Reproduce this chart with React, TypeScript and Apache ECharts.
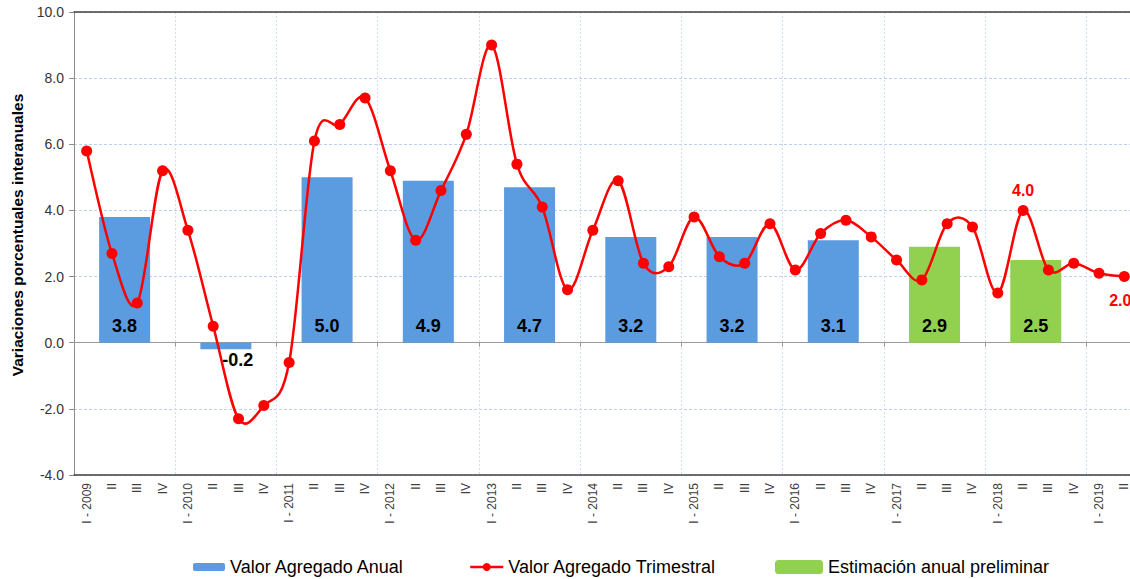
import React, { useEffect, useRef } from "react";
import * as echarts from "echarts";

// ---- Data ----
const years = [2009, 2010, 2011, 2012, 2013, 2014, 2015, 2016, 2017, 2018, 2019];
const quarterNames = ["I", "II", "III", "IV"];
const quarterlyValues = [
  5.8, 2.7, 1.2, 5.2,
  3.4, 0.5, -2.3, -1.9,
  -0.6, 6.1, 6.6, 7.4,
  5.2, 3.1, 4.6, 6.3,
  9.0, 5.4, 4.1, 1.6,
  3.4, 4.9, 2.4, 2.3,
  3.8, 2.6, 2.4, 3.6,
  2.2, 3.3, 3.7, 3.2,
  2.5, 1.9, 3.6, 3.5,
  1.5, 4.0, 2.2, 2.4,
  2.1, 2.0,
];
const annualYears = [2009, 2010, 2011, 2012, 2013, 2014, 2015, 2016, 2017, 2018];
const annualValues = [3.8, -0.2, 5.0, 4.9, 4.7, 3.2, 3.2, 3.1, 2.9, 2.5];
const annualPreliminary = [false, false, false, false, false, false, false, false, true, true];
const labeledQuarters = ["II - 2018", "II - 2019"];
const yTicks = { min: -4, max: 10, interval: 2 };

const quarterCategories: string[] = [];
years.forEach((y) =>
  quarterNames.forEach((q) => {
    if (quarterCategories.length < quarterlyValues.length) {
      quarterCategories.push(q === "I" ? `I - ${y}` : q);
    }
  })
);
const quarterKeys: string[] = [];
years.forEach((y) => quarterNames.forEach((q) => quarterKeys.push(`${q} - ${y}`)));

const BLUE = "#5B9BDF";
const GREEN = "#92D050";
const RED = "#FF0000";
const GRID_COLOR = "#BBD0EE";
const FONT = "'Liberation Sans', Arial, sans-serif";

export default function App() {
  const ref = useRef<HTMLDivElement>(null);

  useEffect(() => {
    document.body.style.overflow = "hidden";
    const chart = echarts.init(ref.current!, null, { renderer: "svg" });

    const barPos = (i: number) => (annualYears[i] - years[0]) * 4 + 2;
    const barLabel = (v: number) =>
      v < 0
        ? { show: true, position: "bottom", distance: 2, offset: [12, 0] }
        : undefined;

    const blueData: any[] = [];
    const greenData: any[] = [];
    annualValues.forEach((v, i) => {
      const item: any = { value: [barPos(i), v] };
      const l = barLabel(v);
      if (l) item.label = l;
      (annualPreliminary[i] ? greenData : blueData).push(item);
    });

    const lineData = quarterlyValues.map((v, i) => {
      const key = quarterKeys[i];
      if (key === labeledQuarters[0]) {
        return { value: v, label: { show: true, position: "top", distance: 6 } };
      }
      if (key === labeledQuarters[1]) {
        return { value: v, label: { show: true, position: "bottom", distance: 10, offset: [-4, 0] } };
      }
      return v;
    });

    // Smooth curve (Catmull-Rom style, as in spreadsheet smoothing), one segment per item
    const n = quarterlyValues.length;
    const renderSegment = (params: any, api: any) => {
      const i = params.dataIndex;
      if (i >= n - 1) return null;
      const pt = (k: number) => {
        const kk = Math.max(0, Math.min(n - 1, k));
        return api.coord([kk, quarterlyValues[kk]]);
      };
      const p0 = pt(i - 1);
      const p1 = pt(i);
      const p2 = pt(i + 1);
      const p3 = pt(i + 2);
      return {
        type: "bezierCurve",
        shape: {
          x1: p1[0],
          y1: p1[1],
          x2: p2[0],
          y2: p2[1],
          cpx1: p1[0] + (p2[0] - p0[0]) / 6,
          cpy1: p1[1] + (p2[1] - p0[1]) / 6,
          cpx2: p2[0] - (p3[0] - p1[0]) / 6,
          cpy2: p2[1] - (p3[1] - p1[1]) / 6,
        },
        style: { stroke: RED, lineWidth: 2.5, fill: null },
        silent: true,
      };
    };

    const barLabelStyle = {
      show: true,
      position: "insideBottom",
      distance: 8,
      fontSize: 18,
      fontWeight: "bold",
      fontFamily: FONT,
      color: "#000",
      formatter: (p: any) => Number(p.value[1]).toFixed(1),
    };

    const legendText = { fontSize: 18, color: "#000", fontFamily: FONT };

    const option: any = {
      animation: false,
      textStyle: { fontFamily: FONT },
      grid: { left: 74, right: 13, top: 12, bottom: 104, containLabel: false },
      xAxis: [
        {
          // zero line with ticks + vertical gridlines
          type: "category",
          data: quarterCategories,
          position: "bottom",
          boundaryGap: true,
          axisLine: { show: true, onZero: true, lineStyle: { color: "#999999", width: 1 } },
          axisTick: { show: true, interval: 3, length: 4, lineStyle: { color: "#999999" } },
          axisLabel: { show: false },
          splitLine: { show: true, interval: 3, lineStyle: { color: "#CFDDF2", type: [2, 2], width: 1 } },
        },
        {
          // bottom axis with labels
          type: "category",
          data: quarterCategories,
          position: "bottom",
          boundaryGap: true,
          axisLine: { show: true, onZero: false, lineStyle: { color: "#404040", width: 1.5 } },
          axisTick: { show: false },
          axisLabel: {
            show: true,
            interval: 0,
            rotate: 90,
            fontSize: 12,
            color: "#404040",
            margin: 8,
            fontFamily: FONT,
          },
          splitLine: { show: false },
        },
        {
          // annual bars positioned in quarter units
          type: "value",
          position: "top",
          min: 0,
          max: quarterCategories.length,
          axisLine: { show: true, onZero: false, lineStyle: { color: "#404040", width: 1.5 } },
          axisTick: { show: false },
          axisLabel: { show: false },
          splitLine: { show: false },
        },
      ],
      yAxis: {
        type: "value",
        min: yTicks.min,
        max: yTicks.max,
        interval: yTicks.interval,
        axisLine: { show: true, onZero: false, lineStyle: { color: "#8C8C8C" } },
        axisTick: { show: true, length: 5, lineStyle: { color: "#8C8C8C" } },
        axisLabel: {
          fontSize: 14,
          color: "#333333",
          margin: 10,
          fontFamily: FONT,
          formatter: (v: number) => v.toFixed(1),
        },
        splitLine: { show: true, lineStyle: { color: GRID_COLOR, type: [3, 2], width: 1 } },
      },
      legend: [
        {
          data: ["Valor Agregado Anual"],
          left: 188,
          top: 553,
          itemWidth: 32,
          itemHeight: 8,
          itemGap: 5,
          textStyle: legendText,
        },
        {
          data: [
            {
              name: "Valor Agregado Trimestral",
              lineStyle: { color: RED, width: 2.5, opacity: 1 },
            },
          ],
          left: 464,
          top: 553,
          itemWidth: 33,
          itemHeight: 10,
          textStyle: legendText,
        },
        {
          data: ["Estimación anual preliminar"],
          left: 770,
          top: 553,
          itemWidth: 48,
          itemHeight: 14,
          textStyle: legendText,
        },
      ],
      graphic: [
        {
          type: "text",
          x: 17,
          y: 235,
          rotation: Math.PI / 2,
          style: {
            text: "Variaciones porcentuales interanuales",
            font: `bold 15.5px ${FONT}`,
            fill: "#000",
            align: "center",
            verticalAlign: "middle",
          },
        },
      ],
      series: [
        {
          name: "Valor Agregado Anual",
          type: "bar",
          xAxisIndex: 2,
          barWidth: 51,
          barGap: "-100%",
          itemStyle: { color: BLUE },
          label: barLabelStyle,
          data: blueData,
          z: 2,
        },
        {
          name: "Estimación anual preliminar",
          type: "bar",
          xAxisIndex: 2,
          barWidth: 51,
          barGap: "-100%",
          itemStyle: { color: GREEN },
          label: barLabelStyle,
          data: greenData,
          z: 2,
        },
        {
          name: "curve",
          type: "custom",
          xAxisIndex: 1,
          yAxisIndex: 0,
          renderItem: renderSegment,
          data: quarterlyValues.map((v, i) => [i, v]),
          z: 4,
          silent: true,
        },
        {
          name: "Valor Agregado Trimestral",
          type: "line",
          xAxisIndex: 1,
          symbol: "circle",
          symbolSize: 11,
          lineStyle: { color: RED, width: 2.5, opacity: 0 },
          itemStyle: { color: RED },
          label: {
            show: false,
            color: RED,
            fontSize: 16,
            fontWeight: "bold",
            fontFamily: FONT,
            formatter: (p: any) => Number(p.value).toFixed(1),
          },
          data: lineData,
          z: 5,
        },
      ],
    };

    chart.setOption(option);
    return () => chart.dispose();
  }, []);

  return (
    <div
      ref={ref}
      style={{ position: "fixed", left: 0, top: 0, width: 1150, height: 579, background: "#fff" }}
    />
  );
}
